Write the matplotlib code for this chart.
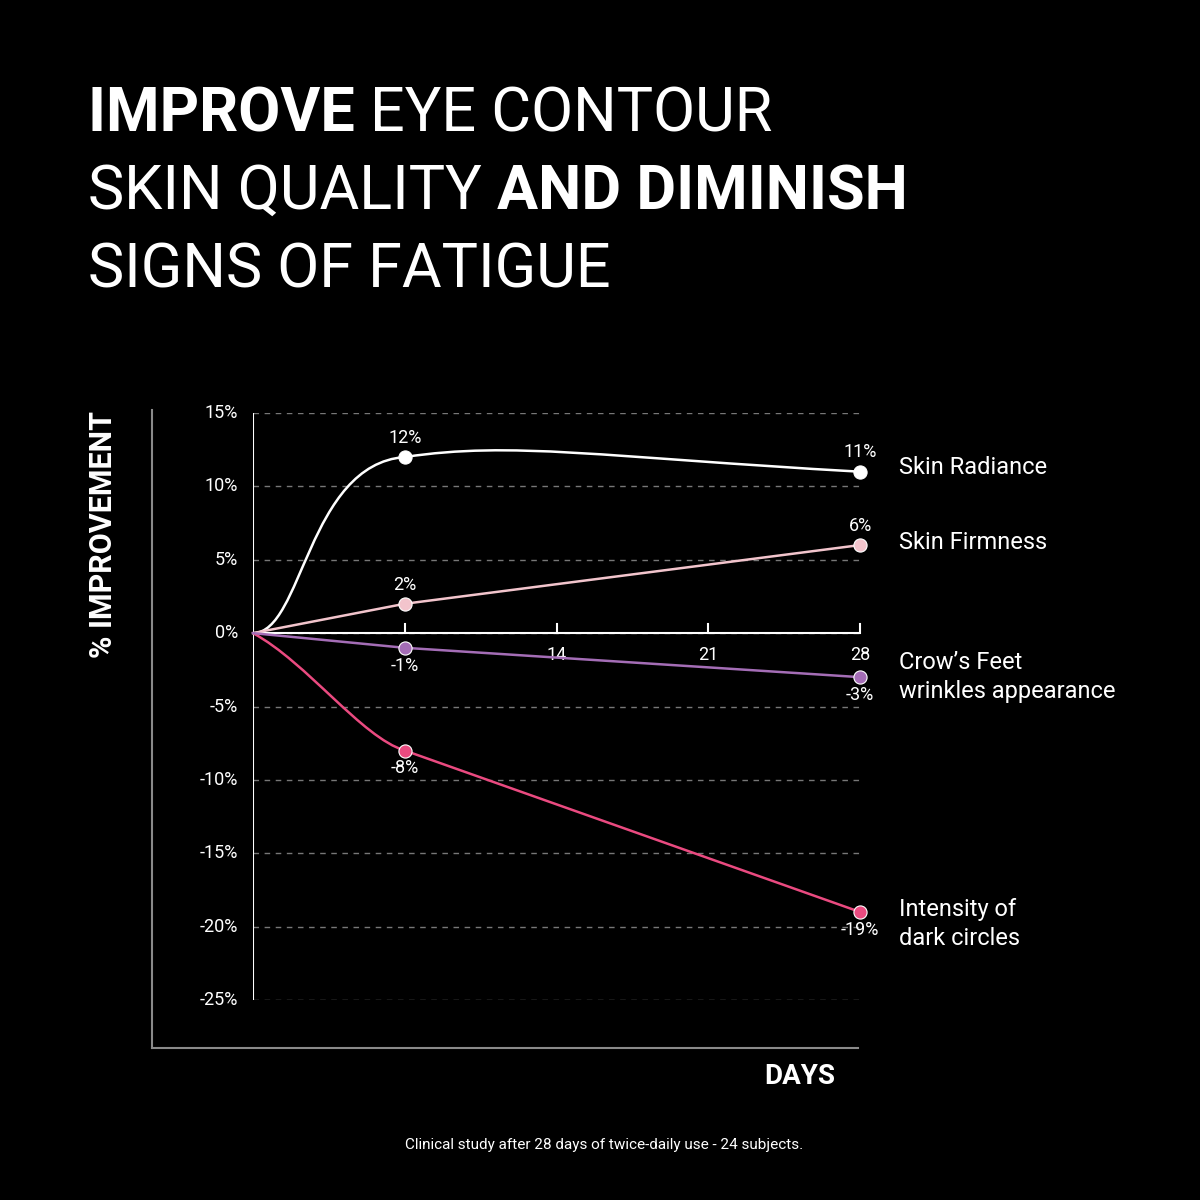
import matplotlib
matplotlib.use("Agg")
import matplotlib.pyplot as plt
from matplotlib.path import Path
from matplotlib.patches import PathPatch
from matplotlib.lines import Line2D

days = [0, 7, 28]
radiance = [0, 12, 11]
firmness = [0, 2, 6]
crows = [0, -1, -3]
dark = [0, -8, -19]
series_names = ["Skin Radiance", "Skin Firmness", "Crow\u2019s Feet\nwrinkles appearance", "Intensity of\ndark circles"]
colors = ["#ffffff", "#f2c4cc", "#a46db6", "#ea4a80"]
yticks = [15, 10, 5, 0, -5, -10, -15, -20, -25]
xticks = [7, 14, 21, 28]

FONT = "Roboto"
fig = plt.figure(figsize=(12, 12), dpi=100, facecolor="black")
ax = fig.add_axes([253/1200, 1-1000/1200, 607/1200, 587/1200])
ax.set_facecolor("black")
ax.set_xlim(0, 28)
ax.set_ylim(-25, 15)
for s in ax.spines.values():
    s.set_visible(False)
ax.set_xticks([]); ax.set_yticks([])
for v in yticks:
    ax.axhline(v, color="#777777", lw=1, ls=(0, (4, 4)), zorder=1)
    ax.text(-0.7, v, f"{v}%", color="white", ha="right", va="center", fontsize=13, family=FONT)
ax.axvline(0, color="white", lw=1.5, zorder=2)
ax.axhline(0, color="white", lw=1.5, zorder=2)
for t in xticks:
    ax.plot([t, t], [0, 0.6], color="white", lw=1.5, zorder=2, clip_on=False)
    if t != 7:
        ax.text(t, -0.9, str(t), color="white", ha="center", va="top", fontsize=13, family=FONT)

def bez(pts, color):
    codes = [Path.MOVETO] + [Path.CURVE4] * (len(pts) - 1)
    ax.add_patch(PathPatch(Path(pts, codes), fill=False, ec=color, lw=1.8, zorder=3, clip_on=False))

bez([(days[0], radiance[0]), (days[0] + 2.3, radiance[0]), (days[1] - 4.5, radiance[1] - 0.5), (days[1], radiance[1]),
     (days[1] + 5, radiance[1] + 1.1), (days[2] - 12, radiance[2] + 1.0), (days[2], radiance[2])], colors[0])
bez([(days[0], dark[0]), (days[0] + 2.5, dark[0] - 2), (days[1] - 2, dark[1] + 0.9), (days[1], dark[1])], colors[3])
ax.plot(days[1:], dark[1:], color=colors[3], lw=1.8, zorder=3, clip_on=False)
ax.plot(days, firmness, color=colors[1], lw=1.8, zorder=3, clip_on=False)
ax.plot(days, crows, color=colors[2], lw=1.8, zorder=3, clip_on=False)

allv = [radiance, firmness, crows, dark]
for vals, c in zip(allv, colors):
    ax.scatter(days[1:], vals[1:], s=90, color=c, edgecolor="white", lw=0.8, zorder=5, clip_on=False)
    for d, v in zip(days[1:], vals[1:]):
        if v > 0:
            ax.text(d, v + 0.7, f"{v}%", color="white", ha="center", va="bottom", fontsize=13, family=FONT)
        else:
            ax.text(d, v - 0.6, f"{v}%", color="white", ha="center", va="top", fontsize=13, family=FONT)

label_y = [11.3, 6.2, -3.0, -19.8]
for name, y in zip(series_names, label_y):
    ax.text(29.8, y, name, color="white", ha="left", va="center", fontsize=17, family=FONT, linespacing=1.35, clip_on=False)

fig.add_artist(Line2D([152/1200, 152/1200], [1-410/1200, 1-1048/1200], color="#8a8a8a", lw=1.5))
fig.add_artist(Line2D([152/1200, 858/1200], [1-1048/1200, 1-1048/1200], color="#8a8a8a", lw=1.5))

fig.text(103/1200, 1-535/1200, "% IMPROVEMENT", rotation=90, color="white", fontsize=22, fontweight="bold",
         ha="center", va="center", family=FONT)
fig.text(835/1200, 1-1077/1200, "DAYS", color="white", fontsize=20, fontweight="bold", ha="right", va="center", family=FONT)
fig.text(604/1200, 1-1145/1200, "Clinical study after 28 days of twice-daily use - 24 subjects.", color="white",
         fontsize=11, ha="center", va="center", family=FONT)

lines = [[("IMPROVE ", "bold"), ("EYE CONTOUR", "normal")],
         [("SKIN QUALITY ", "normal"), ("AND DIMINISH", "bold")],
         [("SIGNS OF FATIGUE", "normal")]]
r = fig.canvas.get_renderer()
ys = [115, 192, 270]
for parts, yp in zip(lines, ys):
    x = 88
    for txt, w in parts:
        t = fig.text(x/1200, 1-yp/1200, txt, color="white", fontsize=44, fontweight=w, family=FONT,
                     ha="left", va="center")
        bb = t.get_window_extent(renderer=r)
        x += bb.width

fig.savefig("out.png", facecolor="black", dpi=100)
